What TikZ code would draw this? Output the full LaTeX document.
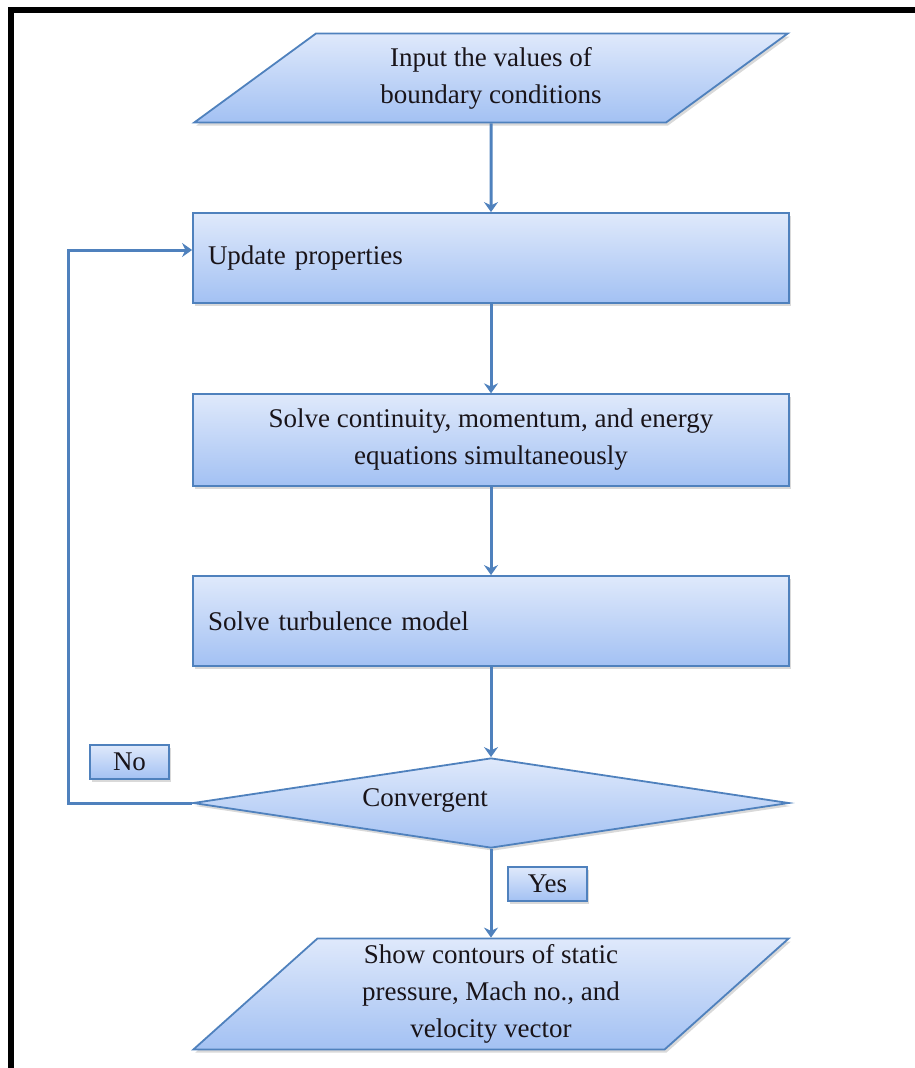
\documentclass[tikz,border=0pt]{standalone}
\usepackage{fontspec}
\setmainfont{Liberation Serif}
\usetikzlibrary{shapes.geometric,arrows.meta,shadows}
\definecolor{boxline}{RGB}{79,129,189}
\definecolor{boxtop}{RGB}{223,233,251}
\definecolor{boxbot}{RGB}{163,193,243}
\definecolor{txt}{RGB}{25,20,25}
\tikzset{
  base/.style={draw=boxline, line width=1.8pt, top color=boxtop, bottom color=boxbot,
    text=txt, font=\fontsize{27}{37}\selectfont,
    drop shadow={shadow xshift=2pt, shadow yshift=-3pt, opacity=0.3}},
  procbox/.style={base, rectangle, minimum width=596, minimum height=90, inner sep=15pt},
  iobox/.style={base, trapezium, trapezium stretches=true, align=center, inner sep=0pt},
  decbox/.style={base, diamond, minimum width=596, minimum height=90, inner sep=0pt},
  tagbox/.style={base, rectangle, minimum width=79, minimum height=34, inner sep=0pt},
  flow/.style={draw=boxline, line width=3pt, -{Stealth[length=10pt,width=14pt]}}
}
\begin{document}
\begin{tikzpicture}[x=1pt,y=-1pt]
  \useasboundingbox (0,0) rectangle (914,1068);
  \draw[line width=6pt] (11,1080) -- (11,10) -- (930,10);

  \node[iobox, trapezium left angle=38.8, trapezium right angle=141.2,
    minimum width=596, minimum height=89] (input) at (491,78)
    {Input the values of\\boundary conditions};
  \node[procbox, text width=566, align=left] (update) at (491,258) {Update properties};
  \node[procbox, align=center] (solve) at (491,440)
    {Solve continuity, momentum, and energy\\equations simultaneously};
  \node[procbox, text width=566, align=left] (turb) at (491,621) {Solve turbulence model};
  \node[decbox] (conv) at (491,803) {};
  \node[text=txt, font=\fontsize{27}{37}\selectfont] (convtxt) at (425,800) {Convergent};
  \node[iobox, trapezium left angle=47, trapezium right angle=133,
    minimum width=596, minimum height=111] (output) at (491,994)
    {Show contours of static\\pressure, Mach no., and\\velocity vector};

  \node[tagbox] (no) at (129.5,762) {No};
  \node[tagbox] (yes) at (547.5,884) {Yes};
  \coordinate (back) at (68,803);

  \draw[flow] (input) -- (update);
  \draw[flow] (update) -- (solve);
  \draw[flow] (solve) -- (turb);
  \draw[flow] (turb) -- (conv);
  \draw[flow] (conv) -- (output);
  \draw[flow] (conv.west) -- (back) |- ([yshift=8pt]update.west);
\end{tikzpicture}
\end{document}
